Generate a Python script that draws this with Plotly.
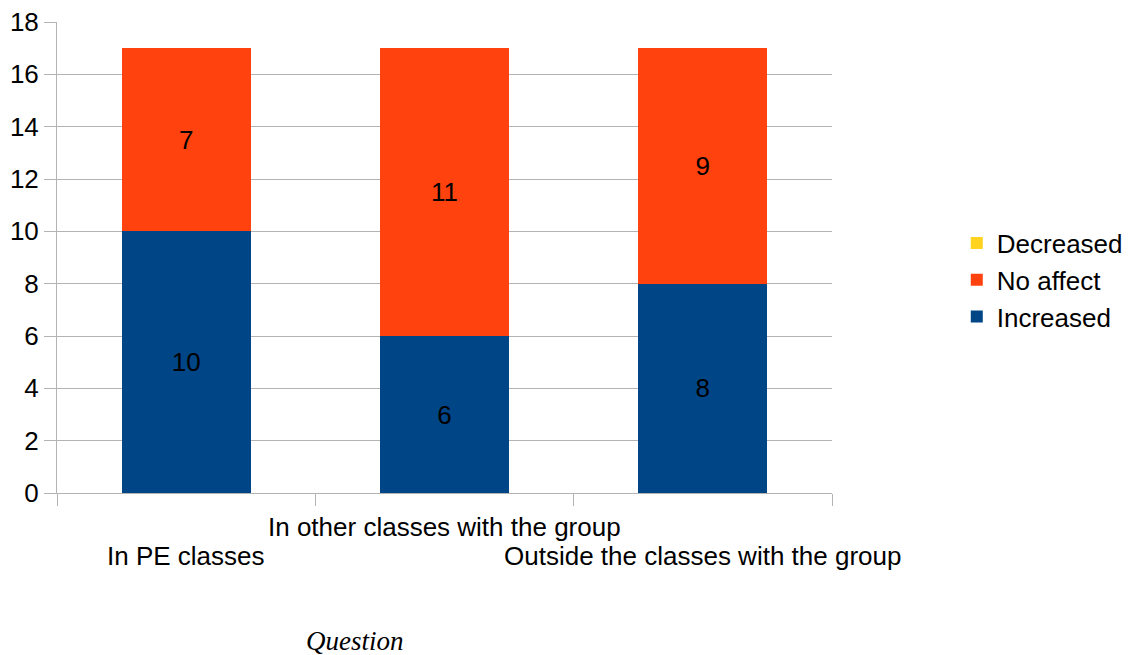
import plotly.graph_objects as go

categories = ["In PE classes", "In other classes with the group", "Outside the classes with the group"]
increased = [10, 6, 8]
no_affect = [7, 11, 9]
decreased = [0, 0, 0]

font_family = "Liberation Sans, Arial, sans-serif"
grid = "#b3b3b3"
fs = 26

fig = go.Figure()
fig.add_trace(go.Bar(name="Increased", x=categories, y=increased, marker_color="#004586",
                     text=[str(v) for v in increased], textposition="inside",
                     insidetextanchor="middle", textfont=dict(color="black", size=fs, family=font_family)))
fig.add_trace(go.Bar(name="No affect", x=categories, y=no_affect, marker_color="#ff420e",
                     text=[str(v) for v in no_affect], textposition="inside",
                     insidetextanchor="middle", textfont=dict(color="black", size=fs, family=font_family)))
fig.add_trace(go.Bar(name="Decreased", x=categories, y=decreased, marker_color="#ffd320",
                     text=["" for v in decreased], textposition="none"))

fig.update_traces(marker_line_width=0, width=0.5)

offsets = [-0.134, -0.072, -0.134]
for c, off in zip(categories, offsets):
    fig.add_annotation(x=c, xref="x", y=off, yref="paper", text=c, showarrow=False,
                       xanchor="center", yanchor="middle",
                       font=dict(size=fs, family=font_family, color="black"))

fig.add_annotation(x=0.3845, xref="paper", y=-0.314, yref="paper", text="<i>Question</i>",
                   showarrow=False, xanchor="center", yanchor="middle",
                   font=dict(size=27, family="Liberation Serif, Times New Roman, serif", color="black"))

fig.update_layout(
    width=1135, height=655,
    barmode="stack",
    plot_bgcolor="white", paper_bgcolor="white",
    margin=dict(l=57, r=303, t=22, b=162, autoexpand=False),
    font=dict(family=font_family, size=fs, color="black"),
    showlegend=True,
    legend=dict(x=1.161, xanchor="left", y=0.452, yanchor="middle",
                font=dict(size=fs, family=font_family, color="black"),
                traceorder="reversed"),
    xaxis=dict(range=[-0.5, 2.5], showticklabels=False, tickson="boundaries", ticks="outside", ticklen=12,
               tickcolor=grid, showline=True, linecolor=grid, showgrid=False, automargin=False),
    yaxis=dict(range=[0, 18], dtick=2, ticks="outside", ticklen=12, tickcolor=grid,
               showgrid=True, gridcolor=grid, showline=True, linecolor=grid, zeroline=False,
               automargin=False,
               tickfont=dict(size=fs, family=font_family, color="black")),
)

fig.write_html("out.html")
